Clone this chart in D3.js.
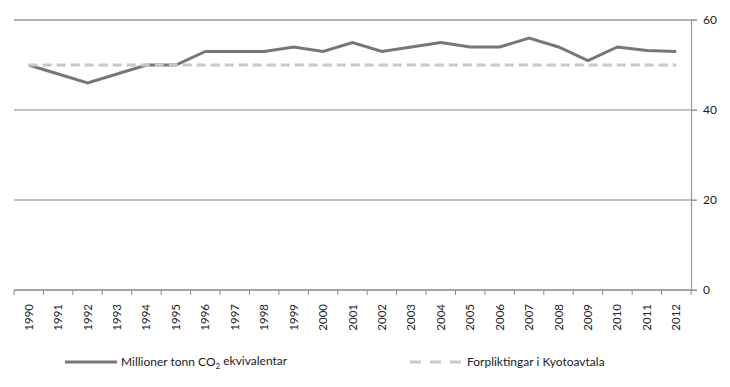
<!DOCTYPE html>
<html>
<head>
<meta charset="utf-8">
<script src="https://cdn.jsdelivr.net/npm/d3@7"></script>
<style>
  body { margin: 0; background: #fff; }
  svg text { font-family: Lato, "Open Sans", sans-serif; fill: #222; }
</style>
</head>
<body>
<div id="chart"></div>
<script>
var years = ['1990','1991','1992','1993','1994','1995','1996','1997','1998','1999','2000','2001',
             '2002','2003','2004','2005','2006','2007','2008','2009','2010','2011','2012'];
var emissions = [50, 48, 46, 48, 50, 50, 53, 53, 53, 54, 53, 55, 53, 54, 55, 54, 54, 56, 54, 51, 54, 53.2, 53];
var kyoto = [50, 50, 50, 50, 50, 50, 50, 50, 50, 50, 50, 50, 50, 50, 50, 50, 50, 50, 50, 50, 50, 50, 50];
var yTicks = [0, 20, 40, 60];

var width = 730, height = 387;
var plotLeft = 14, plotRight = 691, plotTop = 20, plotBottom = 290;

var svg = d3.select('#chart').append('svg')
    .attr('width', width)
    .attr('height', height);

var x = d3.scaleBand().domain(years).range([plotLeft, plotRight]);
var y = d3.scaleLinear().domain([0, 60]).range([plotBottom, plotTop]);

// horizontal grid
svg.append('g').selectAll('line')
    .data(yTicks)
    .enter().append('line')
    .attr('x1', plotLeft).attr('x2', plotRight + 6)
    .attr('y1', function (d) { return y(d); })
    .attr('y2', function (d) { return y(d); })
    .attr('stroke', function (d) { return d === 60 ? '#666' : '#888'; })
    .attr('stroke-width', 1.2);

// right axis
var yAxis = svg.append('g')
    .attr('transform', 'translate(' + plotRight + ',0)')
    .call(d3.axisRight(y).tickValues(yTicks).tickSize(6).tickPadding(6));
yAxis.select('.domain').attr('stroke', '#999').attr('stroke-width', 1.2);
yAxis.selectAll('.tick line').attr('stroke', '#999');
yAxis.selectAll('text').style('font-size', '12px').attr('fill', '#222');

// x axis
var xAxis = svg.append('g')
    .attr('transform', 'translate(0,' + plotBottom + ')')
    .call(d3.axisBottom(x).tickSize(0));
xAxis.select('.domain').remove();
xAxis.append('line')
    .attr('x1', plotLeft).attr('x2', plotRight)
    .attr('stroke', '#888').attr('stroke-width', 1.2);
xAxis.selectAll('.tickmark')
    .data(years.concat(['end']))
    .enter().append('line')
    .attr('class', 'tickmark')
    .attr('x1', function (d, i) { return plotLeft + i * x.step(); })
    .attr('x2', function (d, i) { return plotLeft + i * x.step(); })
    .attr('y1', 0).attr('y2', 5)
    .attr('stroke', '#888');
xAxis.selectAll('.tick text')
    .style('font-size', '11.5px')
    .attr('fill', '#222')
    .attr('transform', 'rotate(-90)')
    .attr('text-anchor', 'end')
    .attr('x', -14)
    .attr('y', 0)
    .attr('dy', '0.35em');

var cx = function (d, i) { return x(years[i]) + x.bandwidth() / 2; };

svg.append('path')
    .datum(emissions)
    .attr('fill', 'none')
    .attr('stroke', '#777')
    .attr('stroke-width', 3)
    .attr('d', d3.line().x(cx).y(function (d) { return y(d); }));

svg.append('path')
    .datum(kyoto)
    .attr('fill', 'none')
    .attr('stroke', '#c8c8c8')
    .attr('stroke-width', 3)
    .attr('stroke-dasharray', '9,5')
    .attr('d', d3.line().x(cx).y(function (d) { return y(d); }));

// legend
var legend = svg.append('g').attr('transform', 'translate(0,362)');
legend.append('line')
    .attr('x1', 65).attr('x2', 117)
    .attr('stroke', '#777').attr('stroke-width', 3);
var t1 = legend.append('text')
    .attr('x', 121).attr('dy', '0.35em')
    .style('font-size', '12px');
t1.append('tspan').text('Millioner tonn CO');
t1.append('tspan').text('2').attr('dy', '0.35em').style('font-size', '8px');
t1.append('tspan').text(' ekvivalentar').attr('dy', '-0.35em');

legend.append('line')
    .attr('x1', 410).attr('x2', 461)
    .attr('stroke', '#c8c8c8').attr('stroke-width', 3)
    .attr('stroke-dasharray', '11,9');
legend.append('text')
    .attr('x', 467).attr('dy', '0.35em')
    .style('font-size', '12px')
    .text('Forpliktingar i Kyotoavtala');
</script>
</body>
</html>
